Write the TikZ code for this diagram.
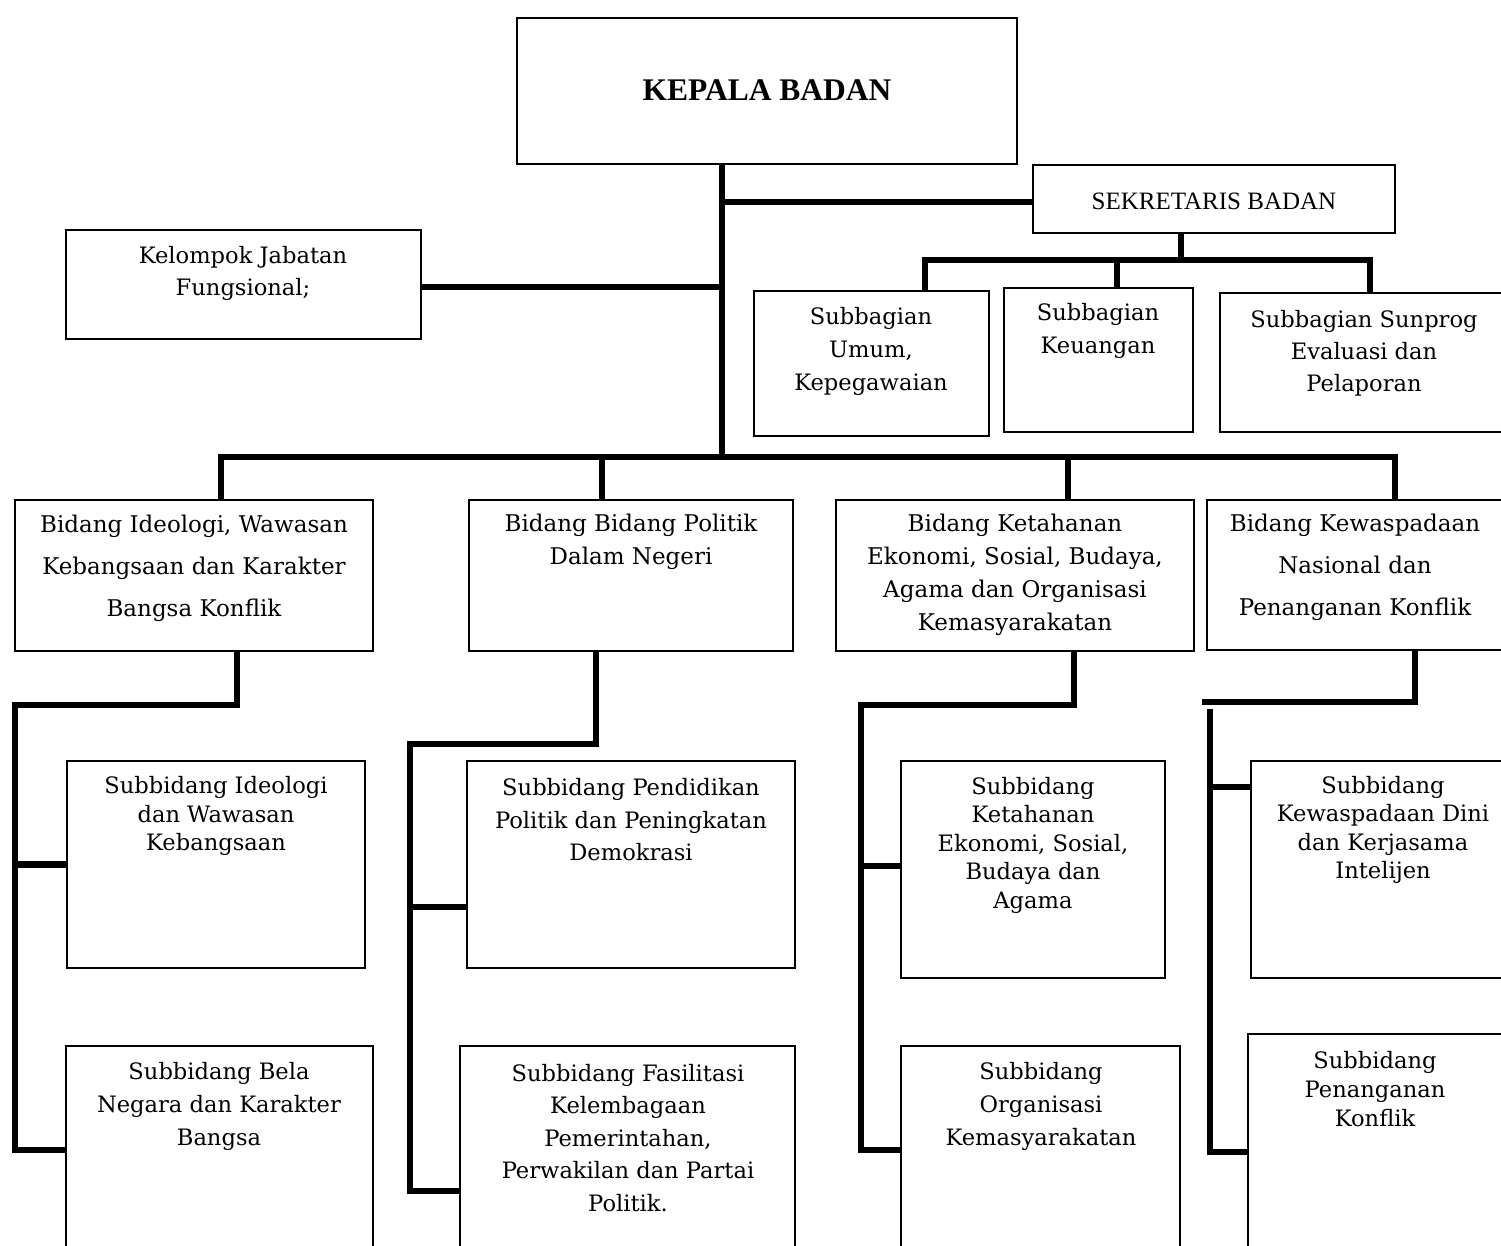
\documentclass[tikz,border=0pt]{standalone}
\usepackage{fontspec}
\setmainfont{DejaVu Serif}
\newfontfamily\timesf{Liberation Serif}
\usetikzlibrary{fit,backgrounds}
\begin{document}
\begin{tikzpicture}[x=1pt,y=-1pt,
  box/.style={draw, line width=1.6pt, fill=white, inner sep=0pt},
  conn/.style={line width=6.5pt, line cap=rect, line join=miter},
  txt/.style={align=center, inner sep=0pt, font=\fontsize{22.6}{#1}\selectfont},
  txt/.default=32,
  btxt/.style={align=center, inner sep=0pt, font=\fontsize{23}{#1}\selectfont},
]
\clip (0,0) rectangle (1501,1246);

% top
\node[box, fit={(517,18) (1017,164)}] (kb) {};
\node[inner sep=0pt, font=\timesf\bfseries\fontsize{31.5}{36}\selectfont] (kbt) at (767,90) {KEPALA BADAN};
\node[box, fit={(1033,165) (1395,233)}] (sek) {};
\node[inner sep=0pt, font=\timesf\fontsize{25}{30}\selectfont] (sekt) at (1214,201) {SEKRETARIS BADAN};
\node[box, fit={(66,230) (421,339)}] (kjf) {};
\node[txt=32] (kjft) at (243,273) {Kelompok Jabatan\\Fungsional;};

% subbagian
\node[box, fit={(754,291) (989,436)}] (sa1) {};
\node[txt=33] (sa1t) at (871,351) {Subbagian\\Umum,\\Kepegawaian};
\node[box, fit={(1004,288) (1193,432)}] (sa2) {};
\node[txt=33] (sa2t) at (1098,331) {Subbagian\\Keuangan};
\node[box, fit={(1220,293) (1512,432)}] (sa3) {};
\node[txt=32] (sa3t) at (1364,353) {Subbagian Sunprog\\Evaluasi dan\\Pelaporan};

% bidang
\node[box, fit={(15,500) (373,651)}] (b1) {};
\node[btxt=42] (b1t) at (194,568) {Bidang Ideologi, Wawasan\\Kebangsaan dan Karakter\\Bangsa Konflik};
\node[box, fit={(469,500) (793,651)}] (b2) {};
\node[btxt=33] (b2t) at (631,542) {Bidang Bidang Politik\\Dalam Negeri};
\node[box, fit={(836,500) (1194,651)}] (b3) {};
\node[btxt=33] (b3t) at (1015,575) {Bidang Ketahanan\\Ekonomi, Sosial, Budaya,\\Agama dan Organisasi\\Kemasyarakatan};
\node[box, fit={(1207,500) (1512,650)}] (b4) {};
\node[btxt=42] (b4t) at (1355,567) {Bidang Kewaspadaan\\Nasional dan\\Penanganan Konflik};

% subbidang
\node[box, fit={(67,761) (365,968)}] (s1a) {};
\node[txt=28.5] (s1at) at (216,816) {Subbidang Ideologi\\dan Wawasan\\Kebangsaan};
\node[box, fit={(66,1046) (373,1262)}] (s1b) {};
\node[txt=33] (s1bt) at (219,1106) {Subbidang Bela\\Negara dan Karakter\\Bangsa};
\node[box, fit={(467,761) (795,968)}] (s2a) {};
\node[txt=32.5] (s2at) at (631,820) {Subbidang Pendidikan\\Politik dan Peningkatan\\Demokrasi};
\node[box, fit={(460,1046) (795,1262)}] (s2b) {};
\node[txt=32.5] (s2bt) at (628,1138) {Subbidang Fasilitasi\\Kelembagaan\\Pemerintahan,\\Perwakilan dan Partai\\Politik.};
\node[box, fit={(901,761) (1165,978)}] (s3a) {};
\node[txt=28.5] (s3at) at (1033,845) {Subbidang\\Ketahanan\\Ekonomi, Sosial,\\Budaya dan\\Agama};
\node[box, fit={(901,1046) (1180,1262)}] (s3b) {};
\node[txt=33] (s3bt) at (1041,1106) {Subbidang\\Organisasi\\Kemasyarakatan};
\node[box, fit={(1251,761) (1512,978)}] (s4a) {};
\node[txt=28.5] (s4at) at (1383,830) {Subbidang\\Kewaspadaan Dini\\dan Kerjasama\\Intelijen};
\node[box, fit={(1248,1034) (1512,1262)}] (s4b) {};
\node[txt=29] (s4bt) at (1375,1089) {Subbidang\\Penanganan\\Konflik};

% junction coordinates
\coordinate (tk) at (722,457);
\coordinate (sekj) at (722,202);
\coordinate (kjfj) at (722,287);
\coordinate (sj) at (1181,260);
\coordinate (sbL) at (925,260);
\coordinate (sbM) at (1117,260);
\coordinate (sbR) at (1370,260);
\coordinate (bL) at (221,457);
\coordinate (b2j) at (602,457);
\coordinate (b3j) at (1068,457);
\coordinate (bR) at (1395,457);
\coordinate (c1a) at (237,705);
\coordinate (c1b) at (15,705);
\coordinate (c1c) at (15,1150);
\coordinate (c2a) at (596,744);
\coordinate (c2b) at (410,744);
\coordinate (c2c) at (410,1191);
\coordinate (c2d) at (410,907);
\coordinate (c3a) at (1074,705);
\coordinate (c3b) at (861,705);
\coordinate (c3c) at (861,1150);
\coordinate (c3d) at (861,866);
\coordinate (c4a) at (1415,702);
\coordinate (c4b) at (1205,702);
\coordinate (c4t) at (1210,712);
\coordinate (c4c) at (1210,1152);
\coordinate (c4d) at (1210,787);

\begin{pgfonlayer}{background}
\draw[conn] (kb.south -| tk) -- (tk);
\draw[conn] (sekj) -- (sekj -| sek.west);
\draw[conn] (kjfj -| kjf.east) -- (kjfj);
\draw[conn] (sek.south -| sj) -- (sj);
\draw[conn] (sbL |- sa1.north) -- (sbL) -- (sbR) -- (sbR |- sa3.north);
\draw[conn] (sbM) -- (sbM |- sa2.north);
\draw[conn] (bL |- b1.north) -- (bL) -- (bR) -- (bR |- b4.north);
\draw[conn] (b2j) -- (b2j |- b2.north);
\draw[conn] (b3j) -- (b3j |- b3.north);
\draw[conn] (b1.south -| c1a) -- (c1a) -- (c1b) -- (c1c) -- (c1c -| s1b.west);
\draw[conn] (s1a.west -| c1b) -- (s1a.west);
\draw[conn] (b2.south -| c2a) -- (c2a) -- (c2b) -- (c2c) -- (c2c -| s2b.west);
\draw[conn] (c2d) -- (c2d -| s2a.west);
\draw[conn] (b3.south -| c3a) -- (c3a) -- (c3b) -- (c3c) -- (c3c -| s3b.west);
\draw[conn] (c3d) -- (c3d -| s3a.west);
\draw[conn] (b4.south -| c4a) -- (c4a) -- (c4b);
\draw[conn] (c4t) -- (c4c) -- (c4c -| s4b.west);
\draw[conn] (c4d) -- (c4d -| s4a.west);
\end{pgfonlayer}
\end{tikzpicture}
\end{document}
